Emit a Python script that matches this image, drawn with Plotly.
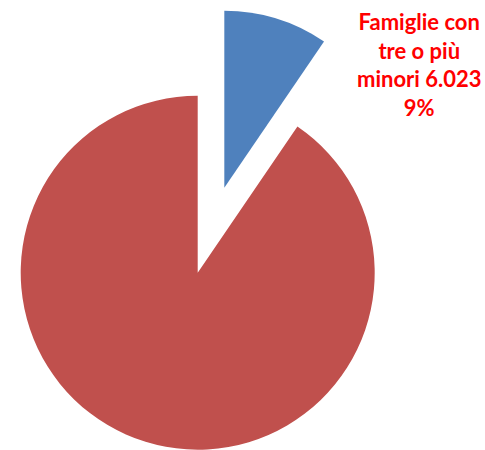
import plotly.graph_objects as go

# Data
categories = ["Famiglie con tre o più minori", "Altre famiglie"]
values = [6023, 57200]
colors = ["#4F81BD", "#C0504D"]
label_text = "Famiglie con<br>tre o più<br>minori 6.023<br>9%"

transparent = "rgba(0,0,0,0)"

fig = go.Figure()

# Main pie (red slice visible, blue slice hidden)
fig.add_trace(go.Pie(
    labels=categories, values=values, sort=False, direction="clockwise",
    rotation=0, textinfo="none", hoverinfo="label+value+percent",
    marker=dict(colors=[transparent, colors[1]], line=dict(width=0)),
    domain=dict(x=[0.04268, 0.77258], y=[0.00067, 0.78733]),
    showlegend=False,
))

# Exploded slice (blue slice visible, red hidden), offset along its bisector
fig.add_trace(go.Pie(
    labels=categories, values=values, sort=False, direction="clockwise",
    rotation=0, textinfo="none", hoverinfo="label+value+percent",
    marker=dict(colors=[colors[0], transparent], line=dict(width=0)),
    domain=dict(x=[0.09753, 0.82742], y=[0.18956, 0.97622]),
    showlegend=False,
))

fig.add_annotation(
    text=label_text, xref="paper", yref="paper",
    x=418.5 / 485, y=0.857, xanchor="center", yanchor="middle",
    showarrow=False, align="center",
    font=dict(family="Lato", size=22, color="#FF0000", weight="bold"),
)

fig.update_layout(
    width=485, height=450,
    margin=dict(l=0, r=0, t=0, b=0),
    paper_bgcolor="white", plot_bgcolor="white",
)

fig.write_html(
    "out.html",
    config={"displayModeBar": False},
    post_script="document.body.style.margin='0';document.body.style.overflow='hidden';",
)
